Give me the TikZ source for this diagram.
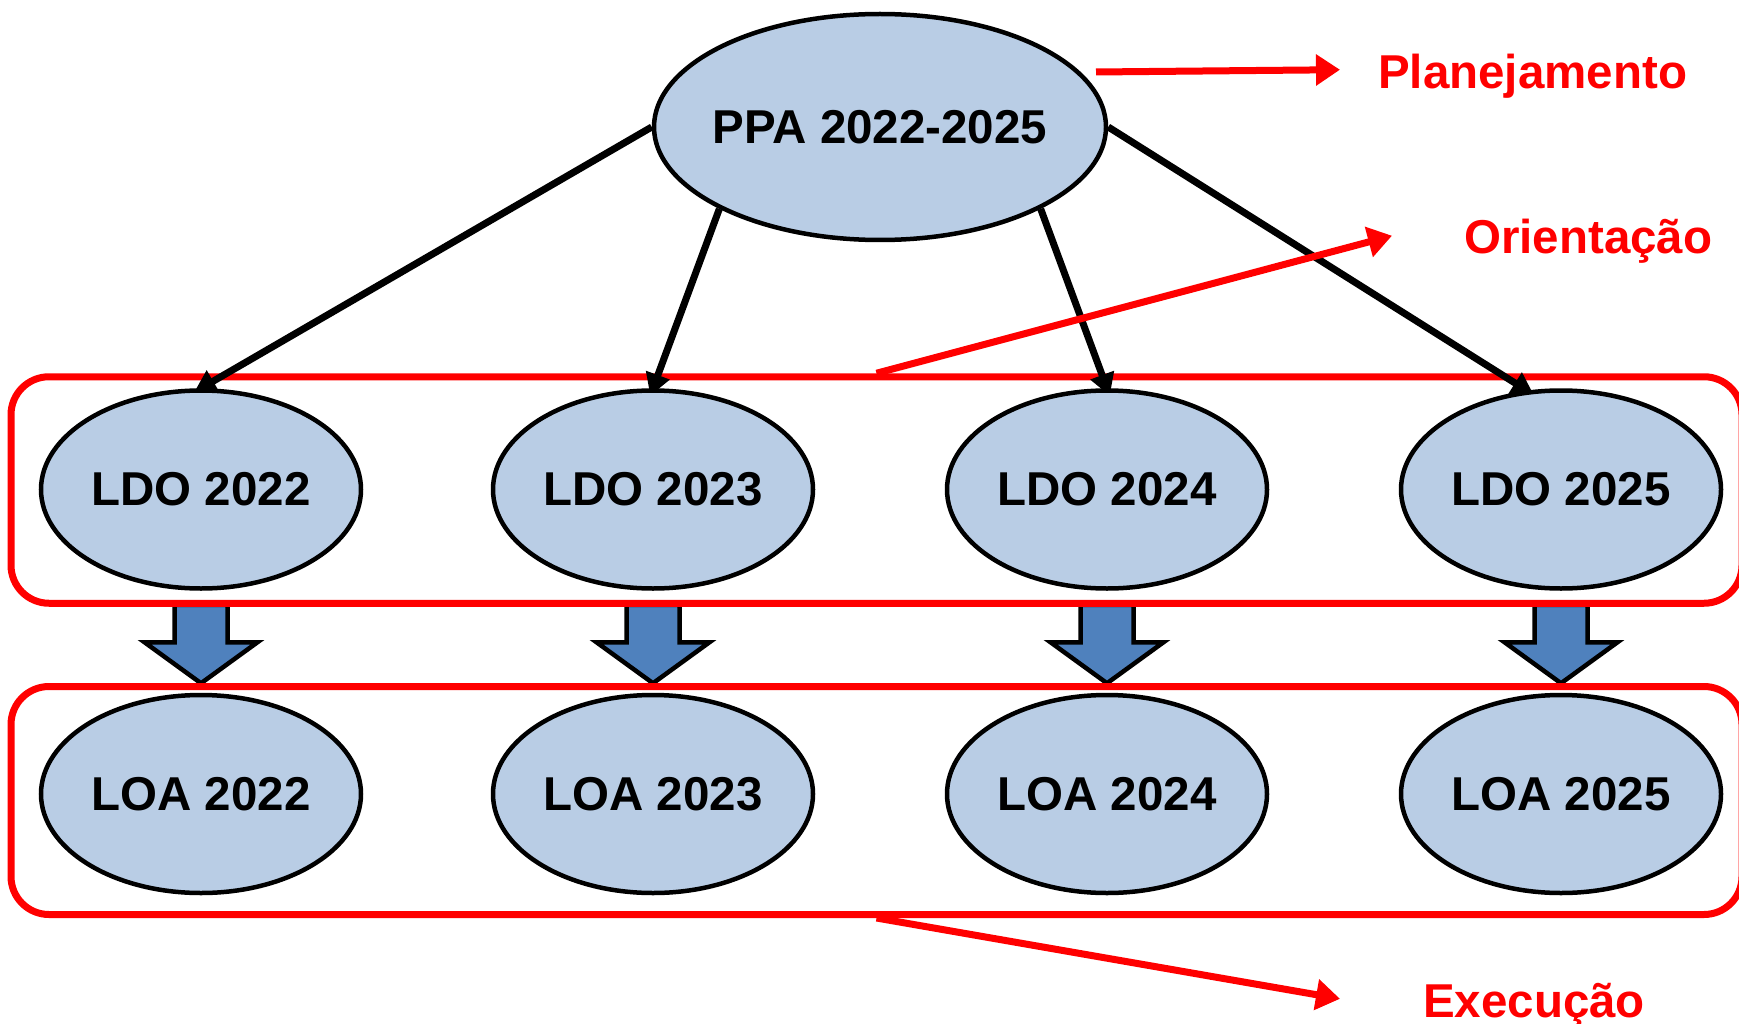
\documentclass[tikz,border=0pt]{standalone}
\usepackage{fontspec}
\setmainfont{Liberation Sans}
\usetikzlibrary{shapes.geometric,arrows.meta,calc}
\pgfdeclarelayer{bottom}
\pgfdeclarelayer{background}
\pgfsetlayers{bottom,background,main}
\definecolor{ellfill}{HTML}{B9CDE5}
\definecolor{blockfill}{HTML}{4F81BD}
\definecolor{myred}{HTML}{FF0000}
\begin{document}
\begin{tikzpicture}[x=1pt,y=1pt,
  ell/.style={ellipse, draw=black, line width=4.5pt, fill=ellfill, inner sep=0pt,
    minimum width=320pt, minimum height=198pt, font=\fontsize{47.5}{57}\selectfont\bfseries},
  redbox/.style={draw=myred, line width=7pt, rounded corners=38pt,
    minimum width=1731pt, inner sep=0pt},
  conn/.style={line width=7pt, -{Triangle[length=22pt,width=24pt]}, shorten >=-8pt},
  redarr/.style={draw=myred, line width=7pt, -{Triangle[length=24pt,width=30pt]}},
  lab/.style={text=myred, inner sep=0pt, font=\fontsize{47.5}{57}\selectfont\bfseries},
  blockarr/.style={draw=black, line width=4.5pt, fill=blockfill, line join=miter}
]
\useasboundingbox (0,0) rectangle (1739,-1024);

% ellipses
\node[ell, minimum width=452pt, minimum height=226pt] (ppa) at (880,-127) {\makebox[0pt]{PPA 2022-2025}};
\node[ell] (ldo1) at (201,-489.5) {LDO 2022};
\node[ell] (ldo2) at (653,-489.5) {LDO 2023};
\node[ell] (ldo3) at (1107,-489.5) {LDO 2024};
\node[ell] (ldo4) at (1561,-489.5) {LDO 2025};
\node[ell] (loa1) at (201,-794) {LOA 2022};
\node[ell] (loa2) at (653,-794) {LOA 2023};
\node[ell] (loa3) at (1107,-794) {LOA 2024};
\node[ell] (loa4) at (1561,-794) {LOA 2025};

% block arrows and red boxes
\begin{pgfonlayer}{bottom}
\foreach \i in {1,...,4}{
  \draw[blockarr] ($(ldo\i.south)+(-26.5,-14)$) -- ($(ldo\i.south)+(-26.5,-51.5)$)
    -- ($(ldo\i.south)+(-56.5,-51.5)$) -- ($(ldo\i.south)+(0,-92.5)$)
    -- ($(ldo\i.south)+(56.5,-51.5)$) -- ($(ldo\i.south)+(26.5,-51.5)$)
    -- ($(ldo\i.south)+(26.5,-14)$) -- cycle;
}
\node[redbox, minimum height=226.5pt] (box1) at (876.5,-490) {};
\node[redbox, minimum height=228pt] (box2) at (876.5,-800.5) {};
\end{pgfonlayer}

% black connectors
\begin{pgfonlayer}{background}
\draw[conn] (ppa.west) -- (ldo1.north);
\draw[conn] (ppa.207) -- (ldo2.north);
\draw[conn] (ppa.333) -- (ldo3.north);
\draw[conn] (ppa.east) -- (ldo4.109);
\end{pgfonlayer}

% labels
\node[lab, anchor=base west] (plan) at (1378,-89) {Planejamento};
\node[lab, anchor=base west] (orient) at (1464,-254) {Orientação};
\node[lab, anchor=base west] (exec) at (1423,-1017) {Execução};

% red arrows
\coordinate (planstart) at (1096,-72);
\draw[redarr] (planstart) -- ([xshift=-38pt,yshift=7pt]plan.west);
\draw[redarr] (box1.north) -- ([xshift=-72pt,yshift=6pt]orient.west);
\draw[redarr] (box2.south) -- ([xshift=-83pt,yshift=6pt]exec.west);
\end{tikzpicture}
\end{document}
